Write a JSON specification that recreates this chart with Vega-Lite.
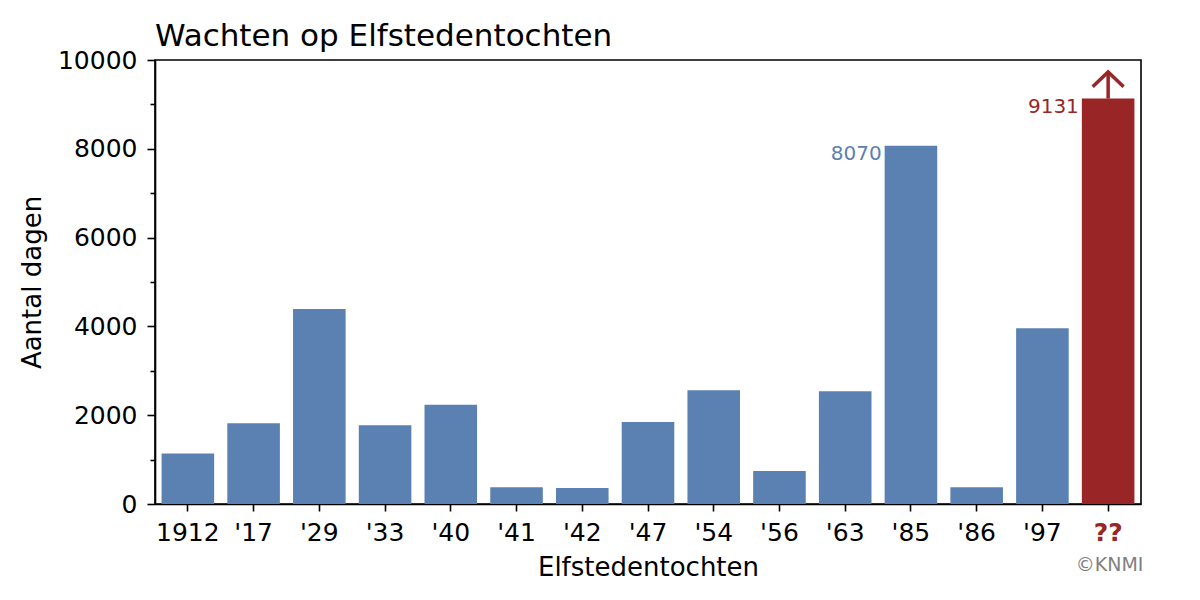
{
  "$schema": "https://vega.github.io/schema/vega-lite/v6.json",
  "autosize": {"type": "none"},
  "width": 986,
  "height": 444,
  "padding": {"left": 155, "top": 60, "right": 59, "bottom": 96},
  "background": "white",
  "config": {
    "font": "DejaVu Sans",
    "view": {"stroke": "black", "strokeWidth": 1.6},
    "axis": {"grid": false, "domainColor": "black", "domainWidth": 1.6, "tickColor": "black", "tickWidth": 1.6, "labelColor": "black", "titleColor": "black", "labelFont": "DejaVu Sans", "titleFont": "DejaVu Sans", "titleFontWeight": "normal"}
  },
  "title": {"text": "Wachten op Elfstedentochten", "anchor": "start", "frame": "group", "fontSize": 31, "font": "DejaVu Sans", "fontWeight": "normal", "color": "black", "offset": -5},
  "data": {"values": [
    {"jaar": "1912", "dagen": 1140, "status": "gereden"},
    {"jaar": "'17", "dagen": 1820, "status": "gereden"},
    {"jaar": "'29", "dagen": 4390, "status": "gereden"},
    {"jaar": "'33", "dagen": 1775, "status": "gereden"},
    {"jaar": "'40", "dagen": 2235, "status": "gereden"},
    {"jaar": "'41", "dagen": 378, "status": "gereden"},
    {"jaar": "'42", "dagen": 360, "status": "gereden"},
    {"jaar": "'47", "dagen": 1845, "status": "gereden"},
    {"jaar": "'54", "dagen": 2560, "status": "gereden"},
    {"jaar": "'56", "dagen": 745, "status": "gereden"},
    {"jaar": "'63", "dagen": 2540, "status": "gereden"},
    {"jaar": "'85", "dagen": 8070, "status": "gereden"},
    {"jaar": "'86", "dagen": 380, "status": "gereden"},
    {"jaar": "'97", "dagen": 3960, "status": "gereden"},
    {"jaar": "??", "dagen": 9131, "status": "wachten"}
  ]},
  "encoding": {
    "x": {
      "field": "jaar", "type": "nominal", "sort": null,
      "scale": {"paddingInner": 0.2, "paddingOuter": 0.1},
      "axis": {
        "title": "Elfstedentochten", "titleFontSize": 26, "titlePadding": 9,
        "labelAngle": 0, "labelFontSize": 25, "labelPadding": 9, "tickSize": 7,
        "labelColor": {"condition": {"test": "datum.value === '??'", "value": "#9A2527"}, "value": "black"},
        "labelFontWeight": {"condition": {"test": "datum.value === '??'", "value": "bold"}, "value": "normal"}
      }
    }
  },
  "layer": [
    {
      "mark": {"type": "bar"},
      "encoding": {
        "y": {
          "field": "dagen", "type": "quantitative",
          "scale": {"domain": [0, 10000], "nice": false},
          "axis": {
            "title": "Aantal dagen", "titleFontSize": 26, "titlePadding": 12,
            "labelFontSize": 25, "labelPadding": 10, "format": "d",
            "values": [0, 500, 1000, 1500, 2000, 2500, 3000, 3500, 4000, 4500, 5000, 5500, 6000, 6500, 7000, 7500, 8000, 8500, 9000, 9500, 10000],
            "labelExpr": "datum.value % 2000 === 0 ? datum.label : ''",
            "tickSize": {"condition": {"test": "datum.value % 2000 === 0", "value": 8}, "value": 5}
          }
        },
        "color": {"field": "status", "type": "nominal", "scale": {"domain": ["gereden", "wachten"], "range": ["#5B80B2", "#9A2527"]}, "legend": null}
      }
    },
    {
      "transform": [{"filter": "datum.jaar === \"'85\" || datum.jaar === '??'"}],
      "mark": {"type": "text", "align": "right", "baseline": "top", "dx": -3, "dy": -2, "fontSize": 20},
      "encoding": {
        "x": {"field": "jaar", "type": "nominal", "sort": null, "bandPosition": 0},
        "y": {"field": "dagen", "type": "quantitative"},
        "text": {"field": "dagen", "type": "quantitative", "format": "d"},
        "color": {"field": "status", "type": "nominal", "legend": null}
      }
    },
    {
      "transform": [{"filter": "datum.jaar === '??'"}],
      "mark": {"type": "rule", "strokeWidth": 3.5, "color": "#9A2527"},
      "encoding": {
        "y": {"field": "dagen", "type": "quantitative"},
        "y2": {"datum": 9710}
      }
    },
    {
      "transform": [{"filter": "datum.jaar === '??'"}],
      "mark": {"type": "point", "shape": "M-1,0.95L0,0L1,0.95", "filled": false, "size": 960, "strokeWidth": 3.5, "color": "#9A2527", "opacity": 1},
      "encoding": {
        "y": {"datum": 9730}
      }
    },
    {
      "transform": [{"filter": "datum.jaar === '??'"}],
      "mark": {"type": "text", "text": "©KNMI", "align": "right", "baseline": "middle", "fontSize": 19, "color": "#808080", "dx": 9},
      "encoding": {
        "x": {"field": "jaar", "type": "nominal", "sort": null, "bandPosition": 1},
        "y": {"datum": -1370}
      }
    }
  ]
}
